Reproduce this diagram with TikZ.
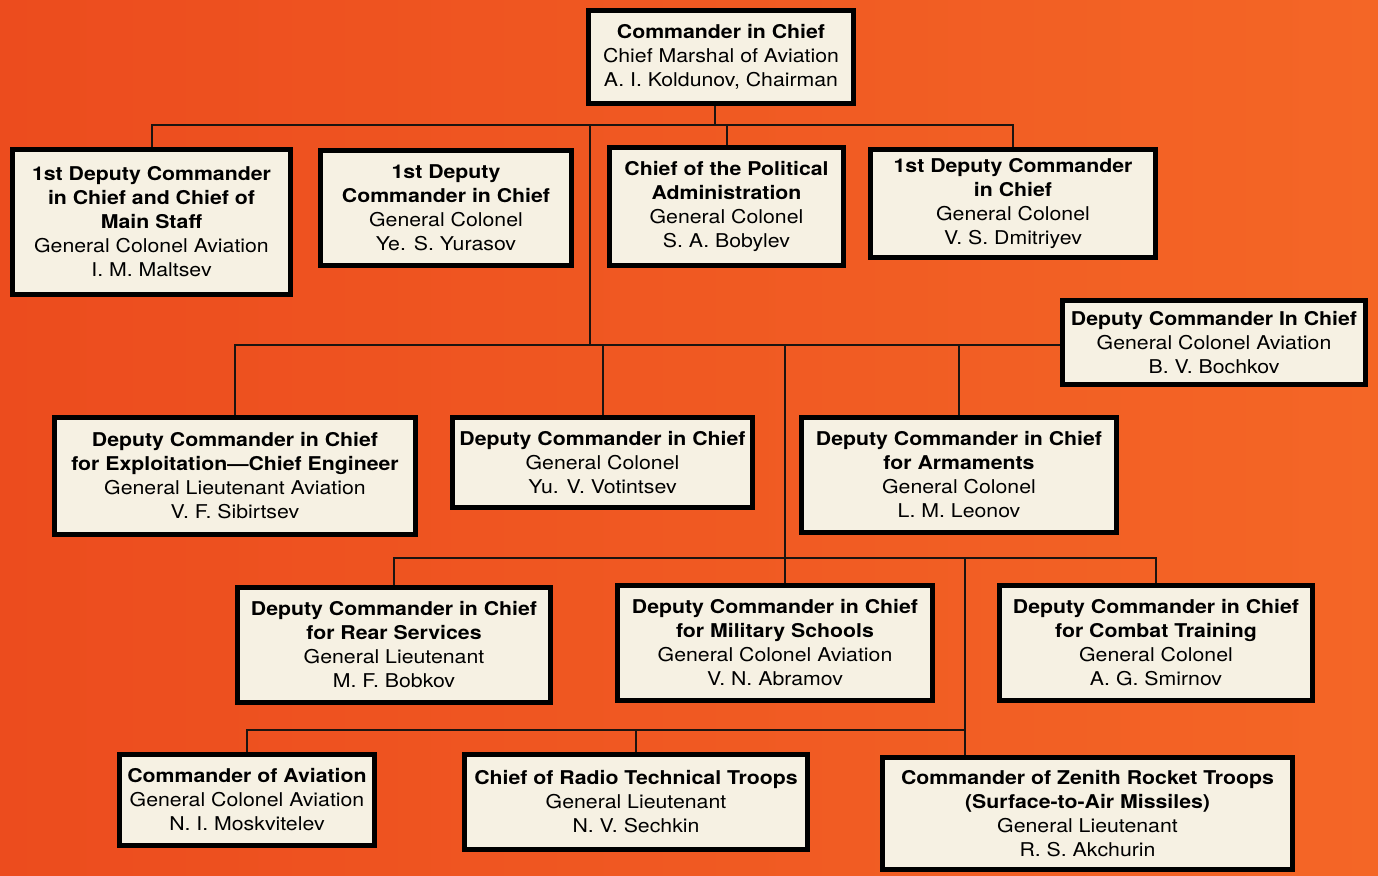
\documentclass[tikz,border=0pt]{standalone}
\usepackage{fontspec}
\setmainfont{TeX Gyre Heros}[FakeStretch=1.12]
\definecolor{bgL}{RGB}{236,76,30}
\definecolor{bgR}{RGB}{244,102,38}
\definecolor{boxcream}{RGB}{246,241,227}
\definecolor{linecol}{RGB}{28,20,16}
\tikzset{
  org/.style={draw=black, line width=5pt, fill=boxcream, align=center, inner sep=0pt,
    font=\fontsize{19}{24}\selectfont},
  link/.style={line width=2pt, draw=linecol},
}
\begin{document}
\begin{tikzpicture}[x=1pt,y=-1pt]
\path[use as bounding box, left color=bgL, right color=bgR] (0,0) rectangle (1378,875);

% junctions
\coordinate (j1) at (715,125);
\coordinate (j2) at (590,125);
\coordinate (j3) at (590,345);
\coordinate (j4) at (785,345);
\coordinate (j5) at (785,558);
\coordinate (j6) at (965,558);
\coordinate (j7) at (965,730);

% boxes
\node[org, minimum width=265pt, minimum height=93pt] (top) at (721,57)
  {\textbf{Commander in Chief}\\Chief Marshal of Aviation\\A. I. Koldunov, Chairman};

\node[org, minimum width=278pt, minimum height=145pt] (maltsev) at (151.5,222)
  {\textbf{1st Deputy Commander}\\\textbf{in Chief and Chief of}\\\textbf{Main Staff}\\General Colonel Aviation\\I. M. Maltsev};
\node[org, minimum width=251pt, minimum height=115pt] (yurasov) at (446,208)
  {\textbf{1st Deputy}\\\textbf{Commander in Chief}\\General Colonel\\Ye. S. Yurasov};
\node[org, minimum width=234pt, minimum height=118pt] (bobylev) at (726.5,206.5)
  {\textbf{Chief of the Political}\\\textbf{Administration}\\General Colonel\\S. A. Bobylev};
\node[org, minimum width=285pt, minimum height=108pt] (dmitriyev) at (1013,203.5)
  {\textbf{1st Deputy Commander}\\\textbf{in Chief}\\General Colonel\\V. S. Dmitriyev};

\node[org, minimum width=303pt, minimum height=84pt] (bochkov) at (1214,342.5)
  {\textbf{Deputy Commander In Chief}\\General Colonel Aviation\\B. V. Bochkov};

\node[org, minimum width=361pt, minimum height=117pt] (sibirtsev) at (235,476)
  {\textbf{Deputy Commander in Chief}\\\textbf{for Exploitation—Chief Engineer}\\General Lieutenant Aviation\\V. F. Sibirtsev};
\node[org, minimum width=300pt, minimum height=90pt] (votintsev) at (602.5,462.5)
  {\textbf{Deputy Commander in Chief}\\General Colonel\\Yu. V. Votintsev};
\node[org, minimum width=315pt, minimum height=115pt] (leonov) at (959,475)
  {\textbf{Deputy Commander in Chief}\\\textbf{for Armaments}\\General Colonel\\L. M. Leonov};

\node[org, minimum width=313pt, minimum height=115pt] (bobkov) at (394,645)
  {\textbf{Deputy Commander in Chief}\\\textbf{for Rear Services}\\General Lieutenant\\M. F. Bobkov};
\node[org, minimum width=315pt, minimum height=115pt] (abramov) at (775,643)
  {\textbf{Deputy Commander in Chief}\\\textbf{for Military Schools}\\General Colonel Aviation\\V. N. Abramov};
\node[org, minimum width=313pt, minimum height=115pt] (smirnov) at (1156,643)
  {\textbf{Deputy Commander in Chief}\\\textbf{for Combat Training}\\General Colonel\\A. G. Smirnov};

\node[org, minimum width=255pt, minimum height=91pt] (moskvitelev) at (247,800)
  {\textbf{Commander of Aviation}\\General Colonel Aviation\\N. I. Moskvitelev};
\node[org, minimum width=343pt, minimum height=95pt] (sechkin) at (636,802)
  {\textbf{Chief of Radio Technical Troops}\\General Lieutenant\\N. V. Sechkin};
\node[org, minimum width=410pt, minimum height=112pt] (akchurin) at (1087.5,813.5)
  {\textbf{Commander of Zenith Rocket Troops}\\\textbf{(Surface-to-Air Missiles)}\\General Lieutenant\\R. S. Akchurin};

% connectors
\draw[link] (top.south -| j1) -- (j1);
\draw[link] (maltsev.north) -- (maltsev.north |- j1) -- (dmitriyev.north |- j1) -- (dmitriyev.north);
\draw[link] (bobylev.north |- j1) -- (bobylev.north);
\draw[link] (j2) -- (j3);
\draw[link] (sibirtsev.north) -- (sibirtsev.north |- j3) -- (bochkov.west |- j3);
\draw[link] (votintsev.north |- j3) -- (votintsev.north);
\draw[link] (leonov.north |- j3) -- (leonov.north);
\draw[link] (j4) -- (abramov.north -| j4);
\draw[link] (bobkov.north) -- (bobkov.north |- j5) -- (smirnov.north |- j5) -- (smirnov.north);
\draw[link] (j6) -- (akchurin.north -| j6);
\draw[link] (moskvitelev.north) -- (moskvitelev.north |- j7) -- (j7);
\draw[link] (sechkin.north |- j7) -- (sechkin.north);
\end{tikzpicture}
\end{document}
